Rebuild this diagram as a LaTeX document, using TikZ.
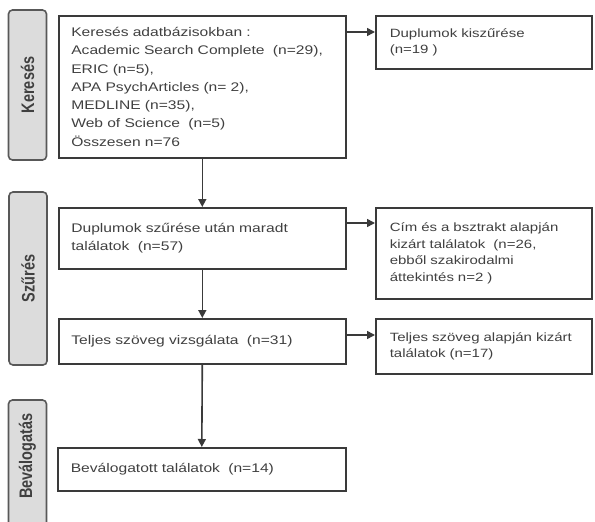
\documentclass[tikz,border=0pt]{standalone}
\usepackage{fontspec}
\usepackage{graphicx}
\setmainfont{Liberation Sans}[FakeStretch=1.25]
\newfontfamily\phasefont{Liberation Sans}
\usetikzlibrary{arrows.meta,positioning}
\definecolor{flowLine}{HTML}{3A3A3A}
\definecolor{flowText}{HTML}{404040}
\definecolor{phaseFill}{HTML}{DCDCDC}
\tikzset{
  flowBox/.style={draw=flowLine, line width=1.6pt, anchor=north west, align=left, inner xsep=12.5pt, inner ysep=0pt, text width=262pt, text=flowText, font=\fontsize{12.5}{18.3}\selectfont},
  sideBox/.style={flowBox, inner xsep=14pt, text width=188pt, font=\fontsize{12}{16.5}\selectfont},
  phaseBox/.style={draw=flowLine!85, fill=phaseFill, line width=1.6pt, rounded corners=4pt, rotate=90, minimum height=38pt, inner sep=0pt},
  phaseLabel/.style={rotate=90, text=flowText, font=\phasefont\bfseries\fontsize{14.5}{16}\selectfont},
  flowArrow/.style={-{Triangle[length=8pt,width=8pt]}, line width=1.6pt, draw=flowLine}
}

\begin{document}
\begin{tikzpicture}[x=1pt,y=-1pt]
  \useasboundingbox (0,0) rectangle (595,522);
  \clip (0,0) rectangle (595,522);
  % phases
  \node[phaseBox, minimum width=150pt] (phSearch) at (27.5,85) {};
  \node[phaseLabel] (lbSearch) at (phSearch.center) {\scalebox{1}[1.25]{Keresés}};
  \node[phaseBox, minimum width=173pt] (phFilter) at (28,278.5) {};
  \node[phaseLabel] (lbFilter) at (phFilter.center) {\scalebox{1}[1.25]{Szűrés}};
  \node[phaseBox, minimum width=140pt] (phSelect) at (27.5,470) {};
  \node[phaseLabel] (lbSelect) at (27.5,456) {\scalebox{1}[1.25]{Beválogatás}};
  % main column
  \node[flowBox, minimum width=287pt, minimum height=142pt] (search) at (58,15)
    {Keresés adatbázisokban :\\ Academic Search Complete \ (n=29),\\ ERIC (n=5),\\ APA PsychArticles (n= 2),\\ MEDLINE (n=35),\\ Web of Science \ (n=5)\\ Összesen n=76};
  \node[flowBox, minimum width=287pt, minimum height=61pt] (afterDup) at (58,207)
    {Duplumok szűrése után maradt\\ találatok \ (n=57)};
  \node[flowBox, minimum width=287pt, minimum height=45pt] (fullText) at (58,318)
    {Teljes szöveg vizsgálata \ (n=31)};
  \node[flowBox, minimum width=288pt, minimum height=43pt] (included) at (57,447)
    {Beválogatott találatok \ (n=14)};
  % excluded column
  \node[sideBox, minimum width=216pt, minimum height=53pt] (dupOut) at (375,15)
    {Duplumok kiszűrése\\ (n=19 )};
  \node[sideBox, minimum width=216pt, minimum height=91pt] (absOut) at (375,207)
    {Cím és a bsztrakt alapján\\ kizárt találatok \ (n=26,\\ ebből szakirodalmi\\ áttekintés n=2 )};
  \node[sideBox, minimum width=216pt, minimum height=55pt] (textOut) at (375,318)
    {Teljes szöveg alapján kizárt\\ találatok (n=17)};
  % connectors
  \draw[flowArrow] (search.south) -- (afterDup.north);
  \draw[flowArrow] (afterDup.south) -- (fullText.north);
  \draw[flowArrow] (fullText.south) -- (included.north);
  \draw[flowArrow] ([yshift=-17pt]search.north east) -- ([yshift=-17pt]search.north east -| dupOut.west);
  \draw[flowArrow] ([yshift=-16pt]afterDup.north east) -- ([yshift=-16pt]afterDup.north east -| absOut.west);
  \draw[flowArrow] ([yshift=-17pt]fullText.north east) -- ([yshift=-17pt]fullText.north east -| textOut.west);
\end{tikzpicture}
\end{document}
